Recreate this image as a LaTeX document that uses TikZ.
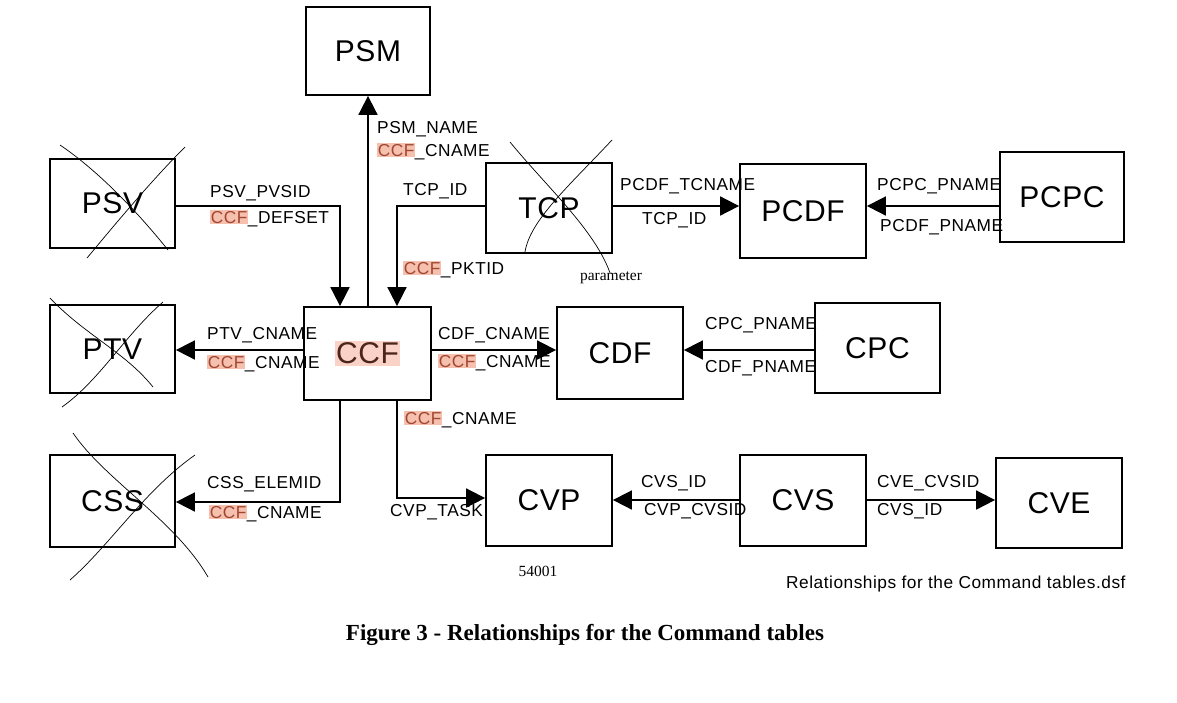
\documentclass[tikz,border=0pt]{standalone}
\usepackage{fontspec}
\setmainfont{Liberation Serif}
\setsansfont{Liberation Sans}
\newfontfamily\lblfont[LetterSpace=3]{Liberation Sans}
\newfontfamily\boxfont[LetterSpace=2]{Liberation Sans}
\usetikzlibrary{arrows.meta}
\definecolor{hlbg}{RGB}{246,192,174}
\definecolor{hltx}{RGB}{160,70,50}
\definecolor{hlbgbig}{RGB}{250,210,198}
\definecolor{hltxbig}{RGB}{75,36,26}
\newcommand{\hlccf}{{\setlength{\fboxsep}{0.6pt}\colorbox{hlbg}{\textcolor{hltx}{CCF}}}}
\newcommand{\hlccfbig}{{\setlength{\fboxsep}{1.5pt}\colorbox{hlbgbig}{\textcolor{hltxbig}{CCF}}}}
\tikzset{
  tbl/.style={draw, line width=1.8pt, rectangle, inner sep=0pt, minimum width=125pt, minimum height=90pt,
    font=\boxfont\fontsize{30}{36}\selectfont},
  lbl/.style={anchor=base west, inner sep=0pt, font=\lblfont\fontsize{17.3}{20}\selectfont},
  arr/.style={line width=1.8pt, -{Triangle[length=19pt,width=19pt]}},
  conn/.style={line width=1.8pt},
  crossline/.style={line width=0.7pt},
  note/.style={inner sep=0pt, font=\rmfamily\fontsize{15.5}{18}\selectfont}
}
\begin{document}
\begin{tikzpicture}[x=1pt,y=-1pt]
\useasboundingbox[fill=white] (0,0) rectangle (1177,702);
% boxes
\node[tbl, minimum width=124pt, minimum height=88pt] (PSM) at (368,51) {PSM};
\node[tbl, minimum height=89pt] (PSV) at (112.5,203.5) {PSV};
\node[tbl, minimum width=126pt] (TCP) at (549,208) {TCP};
\node[tbl, minimum width=126pt, minimum height=94pt] (PCDF) at (803,211) {PCDF};
\node[tbl, minimum width=124pt] (PCPC) at (1062,197) {PCPC};
\node[tbl, minimum height=88pt] (PTV) at (112.5,349) {PTV};
\node[tbl, minimum width=127pt, minimum height=93pt] (CCF) at (367.5,353.5) {\hlccfbig};
\node[tbl, minimum width=126pt, minimum height=92pt] (CDF) at (620,353) {CDF};
\node[tbl] (CPC) at (877.5,348) {CPC};
\node[tbl, minimum height=92pt] (CSS) at (112.5,501) {CSS};
\node[tbl, minimum width=126pt, minimum height=91pt] (CVP) at (549,500.5) {CVP};
\node[tbl, minimum width=126pt, minimum height=91pt] (CVS) at (803,500.5) {CVS};
\node[tbl, minimum width=126pt] (CVE) at (1059,503) {CVE};
% junction coordinates
\coordinate (j1) at (340,206);
\coordinate (j2) at (397,206);
\coordinate (j3) at (0,206);
\coordinate (j4) at (0,350);
\coordinate (j5) at (340,502);
\coordinate (j6) at (397,498);
\coordinate (j7) at (0,500);
% connectors
\draw[arr] (CCF.north -| PSM.south) -- (PSM.south);
\draw[arr] (PSV.east |- j1) -| (CCF.north -| j1);
\draw[arr] (TCP.west |- j2) -| (CCF.north -| j2);
\draw[arr] (TCP.east |- j3) -- (PCDF.west |- j3);
\draw[arr] (PCPC.west |- j3) -- (PCDF.east |- j3);
\draw[arr] (CCF.west |- j4) -- (PTV.east |- j4);
\draw[arr] (CCF.east |- j4) -- (CDF.west |- j4);
\draw[arr] (CPC.west |- j4) -- (CDF.east |- j4);
\draw[arr] (CCF.south -| j5) |- (CSS.east |- j5);
\draw[arr] (CCF.south -| j6) |- (CVP.west |- j6);
\draw[arr] (CVS.west |- j7) -- (CVP.east |- j7);
\draw[arr] (CVS.east |- j7) -- (CVE.west |- j7);
% labels
\node[lbl] (l1) at (377,133) {PSM\_NAME};
\node[lbl] (l2) at (377,156) {\hlccf\_CNAME};
\node[lbl] (l3) at (210,197) {PSV\_PVSID};
\node[lbl] (l4) at (210,223) {\hlccf\_DEFSET};
\node[lbl] (l5) at (403,195) {TCP\_ID};
\node[lbl] (l6) at (403,274) {\hlccf\_PKTID};
\node[lbl] (l7) at (620,190) {PCDF\_TCNAME};
\node[lbl] (l8) at (642,224) {TCP\_ID};
\node[lbl] (l9) at (877,190) {PCPC\_PNAME};
\node[lbl] (l10) at (880,231) {PCDF\_PNAME};
\node[lbl] (l11) at (207,339) {PTV\_CNAME};
\node[lbl] (l12) at (207,368) {\hlccf\_CNAME};
\node[lbl] (l13) at (438,339) {CDF\_CNAME};
\node[lbl] (l14) at (438,367) {\hlccf\_CNAME};
\node[lbl] (l15) at (705,329) {CPC\_PNAME};
\node[lbl] (l16) at (705,372) {CDF\_PNAME};
\node[lbl] (l17) at (404,424) {\hlccf\_CNAME};
\node[lbl] (l18) at (207,488) {CSS\_ELEMID};
\node[lbl] (l19) at (209,518) {\hlccf\_CNAME};
\node[lbl] (l20) at (390,516) {CVP\_TASK};
\node[lbl] (l21) at (641,487) {CVS\_ID};
\node[lbl] (l22) at (644,515) {CVP\_CVSID};
\node[lbl] (l23) at (877,487) {CVE\_CVSID};
\node[lbl] (l24) at (877,515) {CVS\_ID};
\node[lbl] (l25) at (786,588) {Relationships for the Command tables.dsf};
% notes
\node[note] (n1) at (611,278) {parameter};
\node[note] (n2) at (538,571) {54001};
\node[inner sep=0pt, font=\rmfamily\bfseries\fontsize{23}{27}\selectfont] (cap) at (585,635) {Figure 3 - Relationships for the Command tables};
% crosses
\draw[crossline] (60,145) .. controls (100,172) and (140,215) .. (168,250);
\draw[crossline] (185,147) .. controls (150,182) and (112,228) .. (87,258);
\draw[crossline] (50,298) .. controls (85,335) and (125,352) .. (153,387);
\draw[crossline] (163,302) .. controls (125,335) and (100,380) .. (62,407);
\draw[crossline] (510,142) .. controls (545,185) and (595,230) .. (610,273);
\draw[crossline] (612,140) .. controls (570,185) and (530,220) .. (525,252);
\draw[crossline] (73,433) .. controls (105,480) and (175,520) .. (208,577);
\draw[crossline] (195,455) .. controls (145,490) and (110,545) .. (70,580);
\end{tikzpicture}
\end{document}
